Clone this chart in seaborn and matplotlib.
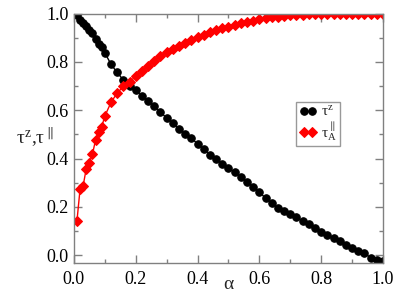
import matplotlib
matplotlib.use("Agg")
import matplotlib.pyplot as plt
import seaborn as sns
import numpy as np
import pandas as pd
from matplotlib.ticker import MultipleLocator, FormatStrFormatter

alpha = [0.01, 0.02, 0.03, 0.04, 0.05, 0.06, 0.07, 0.08, 0.09, 0.10,
         0.12, 0.14, 0.16, 0.18, 0.20, 0.22, 0.24, 0.26, 0.28, 0.30,
         0.32, 0.34, 0.36, 0.38, 0.40, 0.42, 0.44, 0.46, 0.48, 0.50,
         0.52, 0.54, 0.56, 0.58, 0.60, 0.62, 0.64, 0.66, 0.68, 0.70,
         0.72, 0.74, 0.76, 0.78, 0.80, 0.82, 0.84, 0.86, 0.88, 0.90,
         0.92, 0.94, 0.96, 0.98, 1.00]

tau_z = [0.995, 0.973, 0.961, 0.950, 0.932, 0.918, 0.893, 0.874, 0.862, 0.838,
         0.790, 0.756, 0.725, 0.701, 0.682, 0.660, 0.638, 0.616, 0.592, 0.568,
         0.546, 0.523, 0.502, 0.484, 0.461, 0.439, 0.415, 0.398, 0.378, 0.360,
         0.343, 0.323, 0.302, 0.283, 0.261, 0.236, 0.214, 0.196, 0.182, 0.170,
         0.157, 0.141, 0.128, 0.113, 0.096, 0.085, 0.071, 0.059, 0.042, 0.029,
         0.019, 0.007, -0.010, -0.019, -0.026]

tau_par_A = [0.142, 0.273, 0.287, 0.358, 0.383, 0.417, 0.476, 0.510, 0.531, 0.575,
             0.632, 0.671, 0.698, 0.715, 0.741, 0.763, 0.784, 0.805, 0.824, 0.840,
             0.853, 0.867, 0.880, 0.891, 0.902, 0.913, 0.922, 0.931, 0.939, 0.946,
             0.953, 0.960, 0.966, 0.971, 0.976, 0.980, 0.984, 0.987, 0.990, 0.992,
             0.994, 0.995, 0.996, 0.997, 0.998, 0.998, 0.999, 0.999, 1.000, 1.000,
             1.000, 1.000, 1.000, 1.000, 1.000]

labels = [r'$\tau^{z}$', r'$\tau^{\parallel}_{A}$']

sns.set_style("ticks")
plt.rcParams['font.family'] = 'serif'
plt.rcParams['font.serif'] = ['Liberation Serif', 'DejaVu Serif']
plt.rcParams['mathtext.fontset'] = 'custom'
plt.rcParams['mathtext.rm'] = 'Liberation Serif'
plt.rcParams['mathtext.it'] = 'Liberation Serif'
plt.rcParams['mathtext.bf'] = 'Liberation Serif:bold'

fig = plt.figure(figsize=(4.15, 2.94), dpi=100)
ax = fig.add_axes([0.178, 0.105, 0.745, 0.849])

df = pd.DataFrame({'alpha': alpha, 'tz': tau_z, 'tp': tau_par_A})
sns.lineplot(data=df, x='alpha', y='tz', ax=ax, color='black', marker='o',
             markersize=5.4, markeredgecolor='black', linewidth=1.0, label=labels[0])
sns.lineplot(data=df, x='alpha', y='tp', ax=ax, color='#ff0000', marker='D',
             markersize=5.2, markeredgecolor='#ff0000', linewidth=1.0, label=labels[1])

ax.set_xlim(0, 1.0)
ax.set_ylim(-0.033, 1.0)
ax.xaxis.set_major_locator(MultipleLocator(0.2))
ax.xaxis.set_minor_locator(MultipleLocator(0.1))
ax.yaxis.set_major_locator(MultipleLocator(0.2))
ax.yaxis.set_minor_locator(MultipleLocator(0.1))
ax.xaxis.set_major_formatter(FormatStrFormatter('%.1f'))
ax.yaxis.set_major_formatter(FormatStrFormatter('%.1f'))

gray = '#808080'
for s in ax.spines.values():
    s.set_color(gray)
    s.set_linewidth(1.0)
ax.tick_params(which='both', direction='in', top=True, right=True, color=gray,
               labelsize=13, labelcolor='black', width=1.0)
ax.tick_params(which='major', length=6)
ax.tick_params(axis='x', which='major', pad=6)
ax.tick_params(axis='y', which='major', pad=4)
ax.tick_params(which='minor', length=3)

ax.set_xlabel('α', fontsize=14)
ax.xaxis.label.set_va('center')
ax.xaxis.set_label_coords(0.5, -0.086)
ax.set_ylabel(r'$\tau^{z}$,$\tau^{\parallel}$', fontsize=14, rotation=0)
ax.yaxis.label.set_va('center')
ax.yaxis.label.set_ha('center')
ax.yaxis.set_label_coords(-0.125, 0.5)

leg = ax.legend(loc='upper left', bbox_to_anchor=(0.72, 0.645), fontsize=11,
                numpoints=2, handlelength=1.1, handletextpad=0.3, borderpad=0.2,
                labelspacing=0.05, frameon=True, fancybox=False, borderaxespad=0)
leg.get_frame().set_edgecolor(gray)
leg.get_frame().set_linewidth(1.0)

fig.savefig('out.png', dpi=100)
